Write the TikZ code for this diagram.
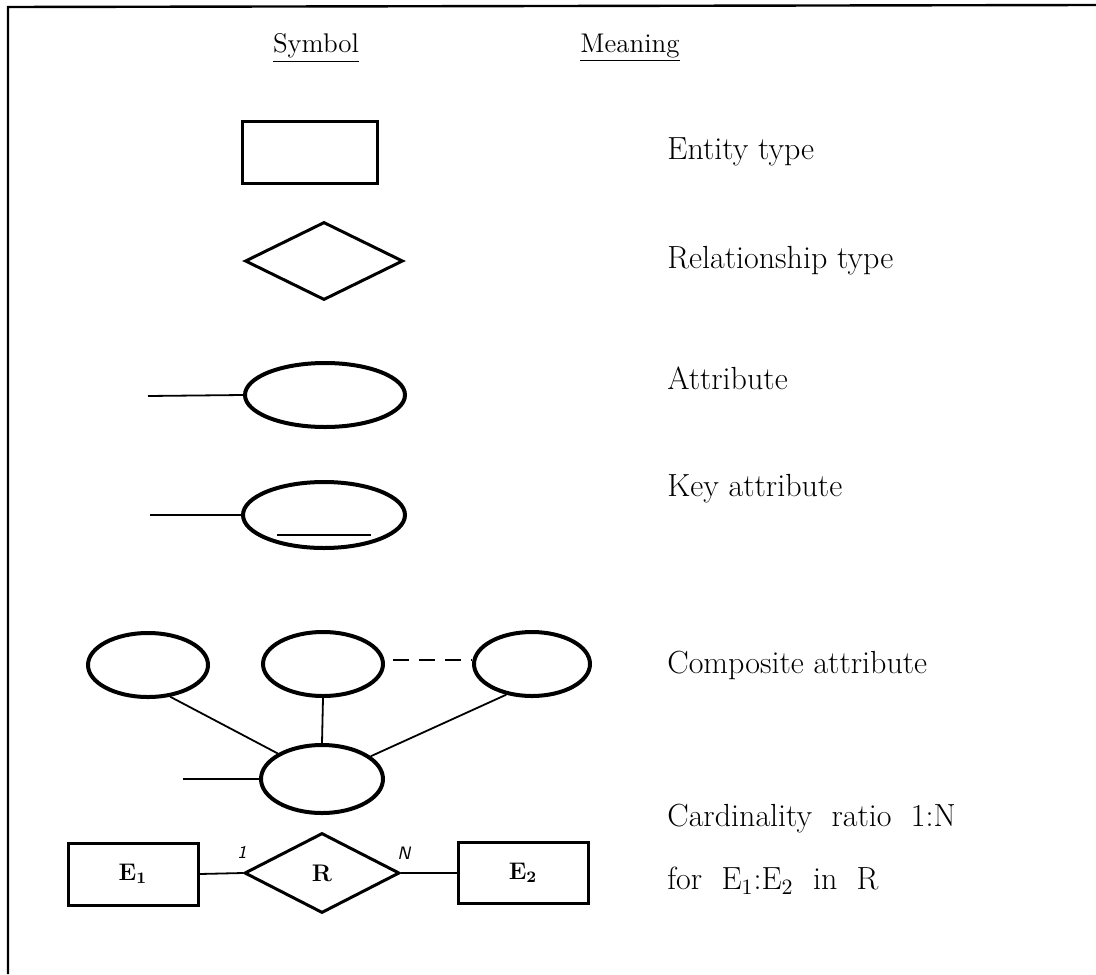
\documentclass[tikz,border=0pt]{standalone}
\usetikzlibrary{shapes.geometric}
\begin{document}
\begin{tikzpicture}[x=0.5pt,y=-0.5pt,
  frameline/.style={line width=1.2pt},
  entbox/.style={draw,line width=1.5pt,rectangle,inner sep=0pt},
  relbox/.style={draw,line width=1.5pt,diamond,inner sep=0pt,aspect=2},
  attr/.style={draw,line width=2pt,ellipse,inner sep=0pt},
  link/.style={line width=0.9pt},
  meaning/.style={anchor=west,inner sep=0pt,font=\fontsize{16}{18}\selectfont},
  head/.style={inner sep=0pt,font=\fontsize{13.5}{15}\selectfont},
  boxlabel/.style={font=\fontsize{12}{13}\selectfont\bfseries},
  card/.style={inner sep=0pt,font=\sffamily\itshape\fontsize{9}{10}\selectfont}]
\useasboundingbox (0,0) rectangle (1096,974);

% frame (top and left edges)
\draw[frameline] (8,974) -- (8,7) -- (1096,5);

% column headings
\node[head] (hsym) at (316,48) {\underline{Symbol}};
\node[head] (hmean) at (630,48) {\underline{Meaning}};

% entity type
\node[entbox,minimum width=67.5pt,minimum height=31pt] (ent) at (310,152) {};
\node[meaning] (tent) at (667,152) {Entity type};

% relationship type
\node[relbox,minimum width=79pt,minimum height=39pt] (rel) at (324,261) {};
\node[meaning] (trel) at (667,261) {Relationship type};

% attribute
\node[attr,minimum width=80pt,minimum height=32pt] (att) at (325,395) {};
\coordinate (attend) at (148,396);
\draw[link] (attend) -- (att.west);
\node[meaning] (tatt) at (667,378) {Attribute};

% key attribute
\node[attr,minimum width=81pt,minimum height=33pt] (key) at (324,515) {};
\coordinate (keyend) at (150,515);
\draw[link] (keyend) -- (key.west);
\draw[link] (277,535) -- (371,535);
\node[meaning] (tkey) at (667,489) {Key attribute};

% composite attribute
\node[attr,minimum width=60pt,minimum height=32pt] (ca) at (148,665) {};
\node[attr,minimum width=60pt,minimum height=32pt] (cb) at (323,664) {};
\node[attr,minimum width=58pt,minimum height=32pt] (cc) at (532,664) {};
\node[attr,minimum width=61pt,minimum height=34pt] (cd) at (322,779) {};
\coordinate (cdend) at (183,779);
\draw[link] (cdend) -- (cd.west);
\draw[link] (ca.-55) -- (cd.150);
\draw[link] (cb.south) -- (cd.north);
\draw[link] (cc.-130) -- (cd.25);
\draw[link,dash pattern=on 8pt off 5pt] (cb.east) ++(8,-4) coordinate (dsa) -- (cc.west |- dsa);
\node[meaning] (tcomp) at (667,665) {Composite attribute};

% cardinality ratio
\node[entbox,minimum width=65pt,minimum height=31pt,boxlabel] (e1) at (133,874)
  {E$_{\mathbf 1}$};
\node[relbox,minimum width=77.5pt,minimum height=40pt,boxlabel] (r) at (322,873)
  {R};
\node[entbox,minimum width=65pt,minimum height=30.5pt,boxlabel] (e2) at (523,873)
  {E$_{\mathbf 2}$};
\draw[link] (e1.east) -- (r.west);
\draw[link] (r.east) -- (e2.west);
\node[card] (one) at (242,852) {1};
\node[card] (many) at (404,853) {N};
\node[meaning] (tcard) at (667,819) {Cardinality\ \ ratio\ \ 1:N};
\node[meaning] (tfor) at (667,881) {for\ \ E$_1$:E$_2$\ \ in\ \ R};
\end{tikzpicture}
\end{document}
